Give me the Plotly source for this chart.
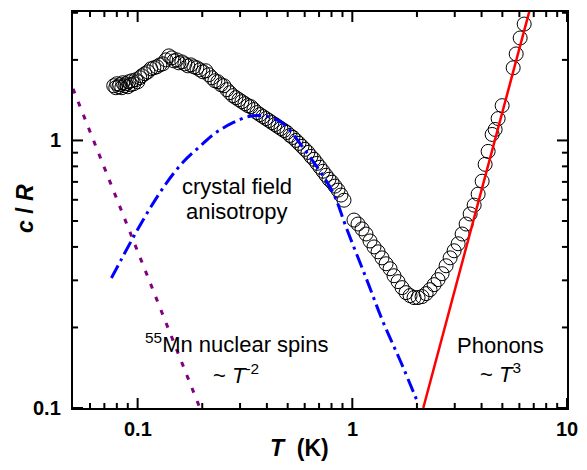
import math
import plotly.graph_objects as go

# Measured specific heat c/R vs temperature T (K)
T_data = [0.0774, 0.0791, 0.0800, 0.0818, 0.0826, 0.0844, 0.0853, 0.0872, 0.0881, 0.0900,
          0.0910, 0.0929, 0.0940, 0.0960, 0.0981, 0.1002, 0.1024, 0.1046, 0.1080, 0.1116,
          0.1152, 0.1190, 0.1229, 0.1269, 0.1311, 0.1354, 0.1398, 0.1443, 0.1475, 0.1523,
          0.1556, 0.1607, 0.1660, 0.1714, 0.1770, 0.1828, 0.1888, 0.1950, 0.2014, 0.2079,
          0.2147, 0.2218, 0.2290, 0.2365, 0.2443, 0.2523, 0.2604, 0.2690, 0.2778, 0.2869,
          0.2963, 0.3060, 0.3161, 0.3264, 0.3370, 0.3481, 0.3595, 0.3713, 0.3834, 0.3960,
          0.4089, 0.4222, 0.4361, 0.4503, 0.4651, 0.4803, 0.4960, 0.5123, 0.5290, 0.5464,
          0.5643, 0.5827, 0.6018, 0.6215, 0.6419, 0.6629, 0.6846, 0.7070, 0.7302, 0.7541,
          0.7788, 0.8043, 0.8304, 0.8577, 0.8858, 0.9148, 1.018, 1.063, 1.110, 1.158,
          1.209, 1.262, 1.318, 1.375, 1.436, 1.499, 1.564, 1.633, 1.705, 1.779,
          1.858, 1.939, 2.024, 2.113, 2.206, 2.302, 2.404, 2.509, 2.619, 2.734,
          2.855, 2.980, 3.111, 3.247, 3.390, 3.539, 3.694, 3.855, 4.025, 4.156,
          4.292, 4.480, 4.627, 4.778, 4.988, 5.614, 5.798, 6.051, 6.317]
c_data = [1.601, 1.574, 1.629, 1.587, 1.615, 1.574, 1.643, 1.601, 1.629, 1.587,
          1.657, 1.615, 1.671, 1.629, 1.686, 1.657, 1.715, 1.744, 1.775, 1.805,
          1.852, 1.868, 1.884, 1.916, 1.933, 2.000, 2.070, 2.035, 1.983, 2.000,
          1.950, 1.966, 1.933, 1.900, 1.916, 1.884, 1.868, 1.836, 1.805, 1.821,
          1.760, 1.715, 1.671, 1.657, 1.615, 1.601, 1.548, 1.508, 1.470, 1.445,
          1.420, 1.396, 1.372, 1.349, 1.337, 1.304, 1.271, 1.249, 1.228, 1.207,
          1.187, 1.166, 1.147, 1.127, 1.108, 1.089, 1.071, 1.044, 1.026, 1.000,
          0.975, 0.950, 0.926, 0.902, 0.872, 0.850, 0.821, 0.794, 0.767, 0.741,
          0.716, 0.698, 0.675, 0.652, 0.625, 0.598, 0.504, 0.487, 0.467, 0.447,
          0.421, 0.400, 0.3835, 0.364, 0.346, 0.3315, 0.3121, 0.2967, 0.2818, 0.2699,
          0.2630, 0.2586, 0.2586, 0.2608, 0.2676, 0.2769, 0.2891, 0.3018, 0.3177, 0.340,
          0.364, 0.387, 0.411, 0.447, 0.487, 0.531, 0.573, 0.630, 0.704, 0.814,
          0.910, 1.053, 1.099, 1.207, 1.349, 1.868, 2.105, 2.415, 2.722]

# Crystal field anisotropy (Schottky) contribution
T_cf = [0.0755, 0.0841, 0.0970, 0.114, 0.1364, 0.163, 0.195, 0.229, 0.278, 0.3335,
        0.379, 0.444, 0.494, 0.570, 0.682, 0.815, 0.942, 1.167, 1.394, 1.669, 2.031]
c_cf = [0.306, 0.360, 0.4446, 0.5564, 0.694, 0.830, 0.950, 1.062, 1.165, 1.231,
        1.237, 1.197, 1.127, 0.975, 0.800, 0.635, 0.467, 0.3018, 0.2088, 0.1508, 0.1035]

# 55Mn nuclear spins ~ T^-2
T_nuc = [0.05, 0.195]
c_nuc = [1.56, 0.1]

# Phonons ~ T^3
T_ph = [2.14, 6.9]
c_ph = [0.1, 3.35]

x_major = [0.1, 1, 10]
x_major_text = ["0.1", "1", "10"]
x_minor = [0.06, 0.07, 0.08, 0.09, 0.2, 0.3, 0.4, 0.5, 0.6, 0.7, 0.8, 0.9,
           2, 3, 4, 5, 6, 7, 8, 9]
y_major = [0.1, 1]
y_major_text = ["0.1", "1"]
y_minor = [0.2, 0.3, 0.4, 0.5, 0.6, 0.7, 0.8, 0.9, 2, 3]

X_RANGE = [-1.30103, 1.0]
Y_RANGE = [-1.0, 0.48]

FONT = "Arial, Liberation Sans, sans-serif"

fig = go.Figure()
fig.add_trace(go.Scatter(x=T_data, y=c_data, mode="markers",
                         marker=dict(symbol="circle-open", size=14, color="black",
                                     line=dict(width=1, color="black")),
                         showlegend=False))
fig.add_trace(go.Scatter(x=T_cf, y=c_cf, mode="lines",
                         line=dict(color="#0000ff", width=3, dash="14px,5px,3px,5px",
                                   shape="spline", smoothing=1.0),
                         showlegend=False))
fig.add_trace(go.Scatter(x=T_nuc, y=c_nuc, mode="lines",
                         line=dict(color="#800080", width=3, dash="5px,9px"),
                         showlegend=False))
fig.add_trace(go.Scatter(x=T_ph, y=c_ph, mode="lines",
                         line=dict(color="#ff0000", width=2.5),
                         showlegend=False))

# inward tick marks on all four frame sides: line markers centred on the frame,
# clipped to the plot area so only the inner half remains
x_lo, x_hi = 10 ** X_RANGE[0], 10 ** X_RANGE[1]
y_lo, y_hi = 10 ** Y_RANGE[0], 10 ** Y_RANGE[1]
for vals, size in ((x_major, 14.3), (x_minor, 7.2)):
    fig.add_trace(go.Scatter(x=vals + vals, y=[y_lo] * len(vals) + [y_hi] * len(vals),
                             mode="markers", cliponaxis=True, hoverinfo="skip",
                             marker=dict(symbol="line-ns", size=size, color="black",
                                         line=dict(width=2, color="black")),
                             showlegend=False))
for vals, size in ((y_major, 14.3), (y_minor, 7.2)):
    fig.add_trace(go.Scatter(x=[x_lo] * len(vals) + [x_hi] * len(vals), y=vals + vals,
                             mode="markers", cliponaxis=True, hoverinfo="skip",
                             marker=dict(symbol="line-ew", size=size, color="black",
                                         line=dict(width=2, color="black")),
                             showlegend=False))

fig.update_xaxes(type="log", range=X_RANGE, showticklabels=False, ticks="",
                 showline=True, linecolor="black", linewidth=2, mirror=True,
                 showgrid=False, zeroline=False)
fig.update_yaxes(type="log", range=Y_RANGE, showticklabels=False, ticks="",
                 showline=True, linecolor="black", linewidth=2, mirror=True,
                 showgrid=False, zeroline=False)

# tick labels (bold), placed at the tick values on the log axes
tfont = dict(family=FONT, size=20, color="black")
for v, t in zip(x_major, x_major_text):
    fig.add_annotation(xref="x", yref="paper", x=math.log10(v), y=0, yshift=-21,
                       xanchor="center", yanchor="middle", showarrow=False,
                       font=tfont, text=f"<b>{t}</b>")
for v, t in zip(y_major, y_major_text):
    fig.add_annotation(xref="paper", yref="y", x=0, y=math.log10(v), xshift=-10,
                       xanchor="right", yanchor="middle", showarrow=False,
                       font=tfont, text=f"<b>{t}</b>")

ann_font = dict(family=FONT, size=22, color="black")
annots = [
    dict(x=0.332, y=0.5586, text="crystal field"),
    dict(x=0.332, y=0.4957, text="anisotropy"),
    dict(x=0.33, y=0.165, text="<sup>55</sup>Mn nuclear spins"),
    dict(x=0.33, y=0.085, text="~ <i>T</i><sup>-2</sup>"),
    dict(x=0.866, y=0.158, text="Phonons"),
    dict(x=0.866, y=0.088, text="~ <i>T</i><sup>3</sup>"),
]
for a in annots:
    fig.add_annotation(xref="paper", yref="paper", showarrow=False,
                       xanchor="center", yanchor="middle", font=ann_font, **a)

title_font = dict(family=FONT, size=23, color="black")
fig.add_annotation(xref="paper", yref="paper", x=0.4595, y=-0.1005, showarrow=False,
                   xanchor="center", yanchor="middle", font=title_font,
                   text="<b><i>T</i>  (K)</b>")
fig.add_annotation(xref="paper", yref="paper", x=-0.0972, y=0.505, showarrow=False,
                   xanchor="center", yanchor="middle", font=title_font, textangle=-90,
                   text="<b><i>c</i> / <i>R</i></b>")

fig.update_layout(width=587, height=470, margin=dict(l=73, r=20, t=10, b=62),
                  plot_bgcolor="white", paper_bgcolor="white",
                  font=dict(family=FONT, color="black"))

fig.write_html("out.html")
